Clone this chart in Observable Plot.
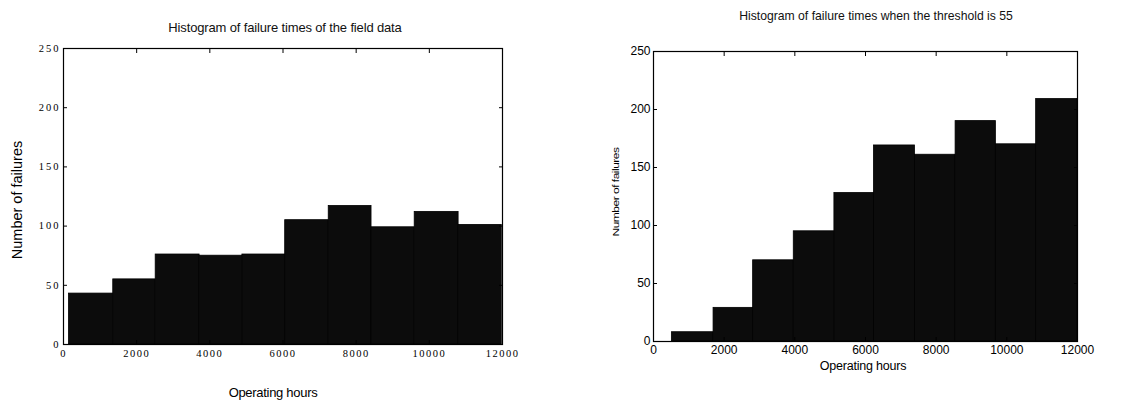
<!DOCTYPE html>
<html>
<head>
<meta charset="utf-8">
<script src="https://cdn.jsdelivr.net/npm/d3@7"></script>
<script src="https://cdn.jsdelivr.net/npm/@observablehq/plot@0.6"></script>
<style>
  html, body { margin: 0; padding: 0; background: #fff; }
  #wrap { position: relative; width: 1140px; height: 401px; overflow: hidden; font-family: "Liberation Sans", Arial, sans-serif; }
  .panel { position: absolute; top: 0; }
  .title { position: absolute; white-space: nowrap; transform: translate(-50%, -50%); color: #111; }
  .lbl { position: absolute; white-space: nowrap; color: #000; }
  #p1 g[aria-label="y-axis tick label"] text { letter-spacing: 2px; }
  #p1 g[aria-label="x-axis tick label"] text { letter-spacing: 1.5px; }
</style>
</head>
<body>
<div id="wrap">
  <div class="panel" id="p1" style="left:0"></div>
  <div class="panel" id="p2" style="left:570px"></div>
  <div class="title" style="left:285px; top:27px; font-size:13px; letter-spacing:-0.15px;">Histogram of failure times of the field data</div>
  <div class="title" style="left:876px; top:16px; font-size:12.2px;">Histogram of failure times when the threshold is 55</div>
  <div class="lbl" style="left:273px; top:392px; transform:translate(-50%,-50%); font-size:13px; letter-spacing:-0.3px;">Operating hours</div>
  <div class="lbl" style="left:863px; top:366px; transform:translate(-50%,-50%); font-size:12.5px; letter-spacing:-0.2px;">Operating hours</div>
  <div class="lbl" style="left:17px; top:200px; transform:translate(-50%,-50%) rotate(-90deg); font-size:14.5px;">Number of failures</div>
  <div class="lbl" style="left:616px; top:192px; transform:translate(-50%,-50%) rotate(-90deg) scaleY(0.75); font-size:12px; letter-spacing:-0.5px;">Number of failures</div>
</div>
<script>
// ---- data ----
const xTicks = [0, 2000, 4000, 6000, 8000, 10000, 12000];
const yTicks = [0, 50, 100, 150, 200, 250];

const fieldEdges  = [150, 1360, 2520, 3720, 4890, 6060, 7250, 8420, 9600, 10800, 11980];
const fieldCounts = [43, 55, 76, 75, 76, 105, 117, 99, 112, 101];

const threshEdges  = [520, 1700, 2820, 3970, 5120, 6240, 7400, 8550, 9690, 10830, 12000];
const threshCounts = [8, 29, 70, 95, 128, 169, 161, 190, 170, 209];

function bins(edges, counts) {
  return counts.map((c, i) => ({x1: edges[i], x2: edges[i + 1], y: c}));
}

const fmt = d3.format("d");

function panel({edges, counts, margins, tickFont, tickSize, xPad, yPad}) {
  return Plot.plot({
    width: 570,
    height: 401,
    marginLeft: margins[0],
    marginRight: margins[1],
    marginTop: margins[2],
    marginBottom: margins[3],
    style: {fontFamily: tickFont, fontSize: tickSize + "px", color: "#000", background: "transparent"},
    x: {domain: [0, 12000]},
    y: {domain: [0, 250]},
    marks: [
      Plot.rectY(bins(edges, counts), {x1: "x1", x2: "x2", y: "y", fill: "#0c0c0c", stroke: "#000", strokeWidth: 0.8}),
      Plot.frame({stroke: "#000", strokeWidth: 1.2}),
      Plot.axisY(yTicks, {anchor: "left", tickSize: 0, tickPadding: yPad, tickFormat: fmt, label: null, fontFamily: tickFont, fontSize: tickSize}),
      Plot.axisX(xTicks, {anchor: "bottom", tickSize: 0, tickPadding: xPad, tickFormat: fmt, label: null, fontFamily: tickFont, fontSize: tickSize}),
      Plot.axisY(yTicks, {anchor: "left", tickSize: -4, tickFormat: () => "", label: null}),
      Plot.axisY(yTicks, {anchor: "right", tickSize: -4, tickFormat: () => "", label: null}),
      Plot.axisX(xTicks, {anchor: "top", tickSize: -4, tickFormat: () => "", label: null}),
      Plot.axisX(xTicks, {anchor: "bottom", tickSize: -4, tickFormat: () => "", label: null})
    ]
  });
}

document.getElementById("p1").append(panel({
  edges: fieldEdges, counts: fieldCounts,
  margins: [63, 68, 48, 57],
  tickFont: '"Liberation Serif", "Times New Roman", serif', tickSize: 10.5,
  xPad: 5, yPad: 3
}));
document.getElementById("p2").append(panel({
  edges: threshEdges, counts: threshCounts,
  margins: [83, 63, 51, 60],
  tickFont: '"Liberation Sans", Arial, sans-serif', tickSize: 12,
  xPad: 4, yPad: 3
}));
</script>
</body>
</html>
